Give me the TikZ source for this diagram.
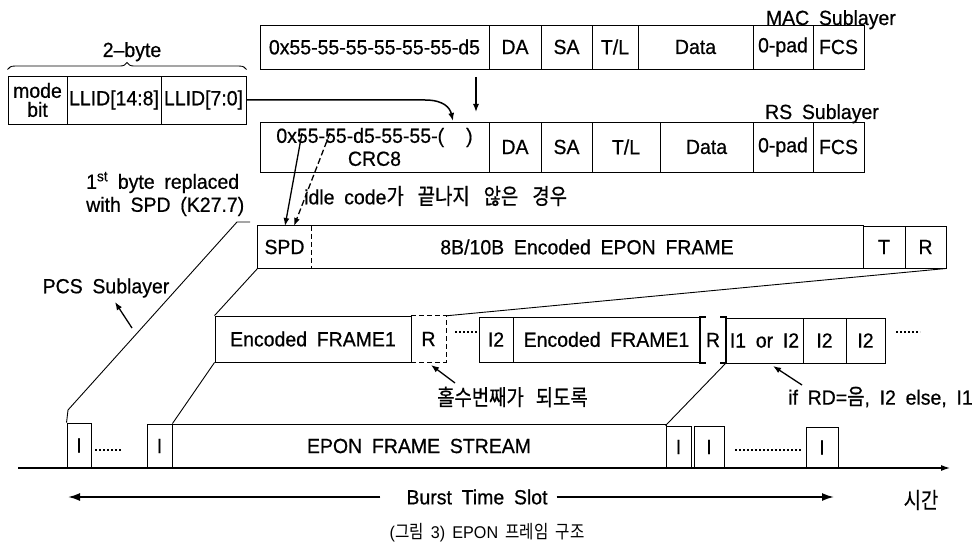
\documentclass[tikz,border=0pt]{standalone}
\usepackage{fontspec}
\usepackage{graphicx}
\setmainfont{Liberation Sans}[WordSpace=1.8, FakeBold=0.6, FakeStretch=0.95]
\newfontfamily\cjk{Noto Sans CJK KR}[Scale=1.08, FakeBold=0.6]
\newfontfamily\capfont{Liberation Sans}[WordSpace=1.6, FakeStretch=0.95]
\newfontfamily\capcjk{Noto Sans CJK KR}[Scale=1.08]
\newcommand\kr[1]{\scalebox{0.85}[1]{\cjk #1}}
\newcommand\krc[1]{\scalebox{0.85}[1]{\capcjk #1}}
\usetikzlibrary{arrows.meta,decorations.pathreplacing,calc}
\newcommand\lbl{\fontsize{20.5}{23}\selectfont}
\newcommand\mkcell[7][]{\node[cell,#1,minimum width={(#4-#3)*1pt},minimum height={(#6-#5)*1pt}] (#2) at ({(#3+#4)/2},{(#5+#6)/2}) {#7};}
\tikzset{
  cell/.style={draw, line width=0.9pt, inner sep=0pt, font=\lbl, align=center},
  bare/.style={inner sep=0pt, font=\lbl},
  arr/.style={-{Latex[length=8pt,width=6pt]}, line width=1.3pt},
  thinl/.style={line width=0.9pt},
  dotrow/.style={line width=2.6pt, dash pattern=on 2.4pt off 1.6pt},
  barr/.style={-{Latex[length=12pt,width=8pt]}, line width=1.8pt},
}
\begin{document}
\begin{tikzpicture}[x=1pt,y=-1pt]
\useasboundingbox (0,0) rectangle (976,553);

% ---- LLID row
\mkcell{mode}{8}{67}{76}{124}{mode\\[-4pt]bit}
\mkcell{llid1}{67}{161}{76}{124}{LLID[14:8]}
\mkcell{llid2}{161}{246}{76}{124}{LLID[7:0]}
\draw[thinl, decorate, decoration={brace, amplitude=7pt}] ($(mode.north west)+(0,-6)$) -- ($(llid2.north east)+(0,-6)$);
\node[bare, anchor=base] (twobyte) at (132,57) {2\textendash byte};

% ---- MAC row
\mkcell{m0}{260}{489}{25}{69}{0x55-55-55-55-55-55-d5}
\mkcell{mDA}{489}{541}{25}{69}{DA}
\mkcell{mSA}{541}{592}{25}{69}{SA}
\mkcell{mTL}{592}{638}{25}{69}{T/L}
\mkcell{mData}{638}{753}{25}{69}{Data}
\mkcell{mPad}{753}{813}{25}{69}{0-pad}
\mkcell{mFCS}{813}{864}{25}{69}{FCS}
\node[bare, anchor=base east] (maclbl) at (896,25) {MAC Sublayer};

% ---- RS row
\mkcell{r0}{260}{489}{122}{172}{0x55-55-d5-55-55-(\hspace{22pt})\\CRC8}
\mkcell{rDA}{489}{541}{122}{172}{DA}
\mkcell{rSA}{541}{592}{122}{172}{SA}
\mkcell{rTL}{592}{660}{122}{172}{T/L}
\mkcell{rData}{660}{753}{122}{172}{Data}
\mkcell{rPad}{753}{813}{122}{172}{0-pad}
\mkcell{rFCS}{813}{864}{122}{172}{FCS}
\node[bare, anchor=base east] (rslbl) at (879,119) {RS Sublayer};

% arrows into RS
\coordinate (ins) at (453,121);
\draw[arr, line width=1.5pt] (llid2.east) -- (425,100) .. controls (444,100) and (450,108) .. (ins);
\coordinate (macdn0) at (476,77);
\coordinate (macdn1) at (476,112);
\draw[arr] (macdn0) -- (macdn1);

% ---- PCS row
\node[bare, minimum width=53pt, minimum height=42pt] (spd) at (284.5,247) {SPD};
\node[bare, minimum width=552pt, minimum height=42pt] (enc) at (587,247) {8B/10B Encoded EPON FRAME};
\mkcell{pT}{863}{905}{226}{268}{T}
\mkcell{pR}{905}{946}{226}{268}{R}
\draw[thinl] (spd.north west) rectangle (enc.south east);
\draw[thinl, dashed, dash pattern=on 5pt off 3pt] (spd.north east) -- (spd.south east);

\coordinate (s0) at (302,133);
\coordinate (d0) at (330,133);
\draw[arr] (s0) -- (285,226);
\draw[arr, dashed, dash pattern=on 6pt off 3pt] (d0) -- (294,226);

\node[bare, anchor=west, align=left] (firstbyte) at (86,194) {1\textsuperscript{st} byte replaced\\with SPD (K27.7)};
\node[bare, anchor=west] (idle) at (304,196) {idle code\kr{가}\hspace{14pt}\kr{끝나지}\hspace{14pt}\kr{않은}\hspace{14pt}\kr{경우}};

% ---- Encoded row
\mkcell{ef1}{215}{411}{316}{362}{Encoded FRAME1}
\node[bare, minimum width=35pt, minimum height=46pt] (rr1) at (428.5,339) {R};
\draw[thinl, dashed, dash pattern=on 5pt off 3pt] (rr1.north west) -- (rr1.north east) -- (rr1.south east) -- (rr1.south west);
\coordinate (dl0) at (455,332);
\coordinate (dl1) at (477,332);
\draw[dotrow] (dl0) -- (dl1);
\mkcell{i2a}{479}{513}{317}{362}{I2}
\mkcell{ef2}{513}{700}{317}{362}{Encoded FRAME1}
\node[bare, minimum width=26pt, minimum height=45pt] (rr2) at (713,340) {R};
\draw[line width=2pt] ($(rr2.north west)+(6,0)$) -- (rr2.north west) -- (rr2.south west) -- ($(rr2.south west)+(6,0)$);
\draw[line width=2pt] ($(rr2.north east)+(-6,0)$) -- (rr2.north east) -- (rr2.south east) -- ($(rr2.south east)+(-6,0)$);
\mkcell{i12}{726}{803}{318}{363}{I1 or I2}
\mkcell{i2b}{803}{846}{318}{363}{I2}
\mkcell{i2c}{846}{885}{318}{363}{I2}
\coordinate (dr0) at (896,332);
\coordinate (dr1) at (920,332);
\draw[dotrow] (dr0) -- (dr1);

% expansion lines
\draw[thinl] (spd.south west) -- (ef1.north west);
\draw[thinl] (pR.south east) -- (rr1.north east);

% annotations
\coordinate (ra0) at (455,383);
\draw[arr] (ra0) -- (431,365);
\node[bare, anchor=west] (odd) at (437,397) {\kr{홀수번째가}\hspace{12pt}\kr{되도록}};
\coordinate (ia0) at (802,385);
\draw[arr] (ia0) -- (773,366);
\node[bare, anchor=west] (ifrd) at (788,397) {if RD=\kr{음}, I2 else, I1};

\node[bare] (pcs) at (106,288) {PCS Sublayer};
\coordinate (pa0) at (132,328);
\draw[arr] (pa0) -- (115,302);

% ---- time line
\mkcell{iA}{67}{91}{423}{468}{I}
\coordinate (ta0) at (95,450);
\coordinate (ta1) at (122,450);
\draw[dotrow] (ta0) -- (ta1);
\mkcell{iB}{147}{172}{424}{468}{I}
\mkcell{stream}{172}{666}{424}{468}{EPON FRAME STREAM}
\mkcell{iC}{666}{691}{426}{468}{I}
\mkcell{iD}{694}{724}{426}{468}{I}
\coordinate (tb0) at (735,450);
\coordinate (tb1) at (802,450);
\draw[dotrow] (tb0) -- (tb1);
\mkcell{iE}{806}{838}{427}{468}{I}
\coordinate (t0) at (18,468);
\coordinate (t1) at (950,468);
\draw[-{Latex[length=9pt,width=6pt]}, line width=1.1pt] (t0) -- (t1);

\draw[thinl] (250,222) -- (237,222) -- (68,410) -- (iA.north west);
\draw[thinl] (ef1.south west) -- (iB.north east);
\draw[thinl] (i12.south west) -- (iC.north west);

\node[bare] (burst) at (477,497) {Burst Time Slot};
\coordinate (bl) at (68,497);
\coordinate (br) at (834,497);
\draw[barr] ([xshift=-26pt]burst.west) -- (bl);
\draw[barr] ([xshift=9pt]burst.east) -- (br);
\node[bare] (time) at (921,500) {\kr{시간}};

\node[inner sep=0pt, font=\fontsize{17}{19}\selectfont\capfont] (cap) at (487,533) {(\krc{그림} 3) EPON \krc{프레임} \krc{구조}};
\end{tikzpicture}
\end{document}
